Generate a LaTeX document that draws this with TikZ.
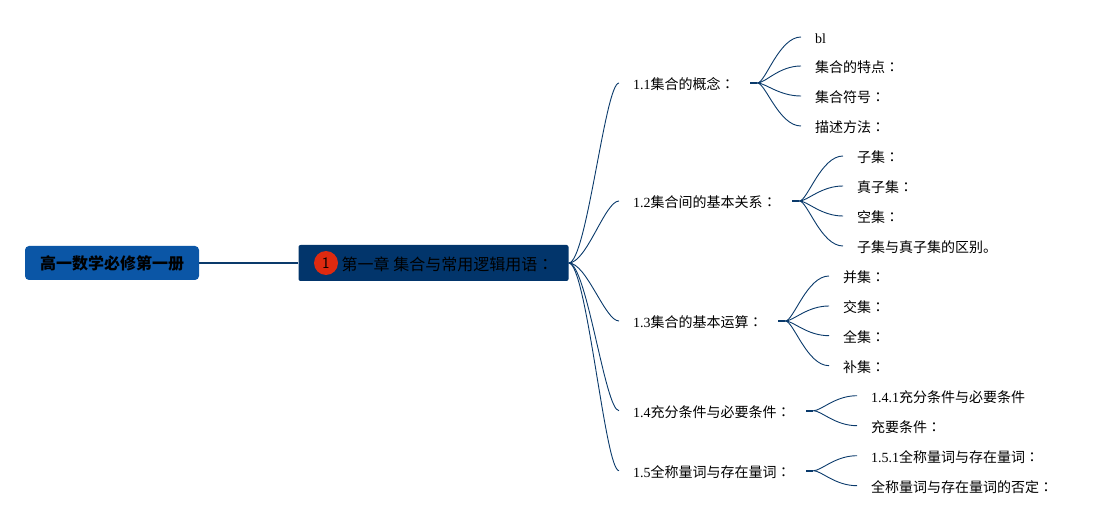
\documentclass[tikz,border=0pt]{standalone}
\usepackage{fontspec}
\setmainfont{Liberation Serif}
\newfontfamily\zhf{Noto Sans CJK SC}
\newfontfamily\zhc{Noto Sans CJK TC}
\newcommand\zh[1]{{\zhf #1}}
\newcommand\cln{{\zhc ：}}
\definecolor{rootblue}{HTML}{0B56A6}
\definecolor{navy}{HTML}{02356B}
\definecolor{linkblue}{HTML}{0A3A6B}
\definecolor{badgered}{HTML}{DE2A10}
\tikzset{
  x=1pt,y=-1pt,
  rootbox/.style={fill=rootblue,rounded corners=4pt,minimum width=174pt,minimum height=34pt,inner sep=0pt,font=\fontsize{16}{16}\selectfont\bfseries},
  chapbox/.style={fill=navy,rounded corners=2pt,minimum width=270pt,minimum height=36pt,inner sep=0pt,font=\fontsize{16}{16}\selectfont},
  badge/.style={circle,fill=badgered,minimum size=24pt,inner sep=0pt,font=\fontsize{16}{16}\selectfont\sffamily},
  secbox/.style={anchor=west,inner xsep=14pt,inner ysep=0pt,align=left,text height=14pt,text depth=0pt,font=\fontsize{14}{16}\selectfont},
  leafbox/.style={anchor=west,inner xsep=14pt,inner ysep=0pt,text height=14pt,text depth=0pt,font=\fontsize{14}{16}\selectfont},
  trunk/.style={draw=linkblue,line width=2.3pt},
  link/.style={draw=linkblue,line width=0.9pt},
  stub/.style={draw=linkblue,line width=2.2pt},
}
\newcommand\trunkcurve[2]{\draw[link] (#1.east) .. controls +(18,0) and +(-14,0) .. (#2.west);}
\newcommand\leafcurve[2]{\draw[link] (#1) .. controls +(8,0) and +(-22,0) .. (#2.west);}
\begin{document}
\begin{tikzpicture}
\useasboundingbox (0,0) rectangle (1113,526);
\node[rootbox] (root) at (112,263) {\zh{\bfseries 高一数学必修第一册}};
\node[chapbox] (chap) at (433.5,263) {};
\node[badge] (num) at (326,263) {1};
\node[anchor=west,inner sep=0pt,font=\fontsize{16}{16}\selectfont] (chaptext) at (341.5,264) {\zh{第一章 集合与常用逻辑用语}\cln};
\draw[trunk] (root) -- (chap);
% sections
\node[secbox,text width=103pt] (s1) at (619,83) {1.1\zh{集合的概念}\cln};
\node[secbox,text width=145pt] (s2) at (619,201) {1.2\zh{集合间的基本关系}\cln};
\node[secbox,text width=131pt] (s3) at (619,321) {1.3\zh{集合的基本运算}\cln};
\node[secbox,text width=159pt] (s4) at (619,410.7) {1.4\zh{充分条件与必要条件}\cln};
\node[secbox,text width=159pt] (s5) at (619,470.7) {1.5\zh{全称量词与存在量词}\cln};
\foreach \s in {s1,s2,s3,s4,s5}{
  \trunkcurve{chap}{\s}
  \coordinate (\s j) at ([xshift=7pt]\s.east);
  \draw[stub] (\s.east) -- (\s j);
}
% leaves 1.1
\node[leafbox] (a1) at (801,37) {bl};
\node[leafbox] (a2) at (801,66) {\zh{集合的特点}\cln};
\node[leafbox] (a3) at (801,96) {\zh{集合符号}\cln};
\node[leafbox] (a4) at (801,126) {\zh{描述方法}\cln};
% leaves 1.2
\node[leafbox] (b1) at (843,156) {\zh{子集}\cln};
\node[leafbox] (b2) at (843,186) {\zh{真子集}\cln};
\node[leafbox] (b3) at (843,216) {\zh{空集}\cln};
\node[leafbox] (b4) at (843,246) {\zh{子集与真子集的区别。}};
% leaves 1.3
\node[leafbox] (c1) at (829,276) {\zh{并集}\cln};
\node[leafbox] (c2) at (829,306) {\zh{交集}\cln};
\node[leafbox] (c3) at (829,335.7) {\zh{全集}\cln};
\node[leafbox] (c4) at (829,365.7) {\zh{补集}\cln};
% leaves 1.4, 1.5
\node[leafbox] (d1) at (857,395.7) {1.4.1\zh{充分条件与必要条件}};
\node[leafbox] (d2) at (857,425.7) {\zh{充要条件}\cln};
\node[leafbox] (e1) at (857,455.7) {1.5.1\zh{全称量词与存在量词}\cln};
\node[leafbox] (e2) at (857,485.7) {\zh{全称量词与存在量词的否定}\cln};
\foreach \f/\t in {s1/a1,s1/a2,s1/a3,s1/a4,s2/b1,s2/b2,s2/b3,s2/b4,s3/c1,s3/c2,s3/c3,s3/c4,s4/d1,s4/d2,s5/e1,s5/e2}{
  \leafcurve{\f j}{\t}
}
\end{tikzpicture}
\end{document}
